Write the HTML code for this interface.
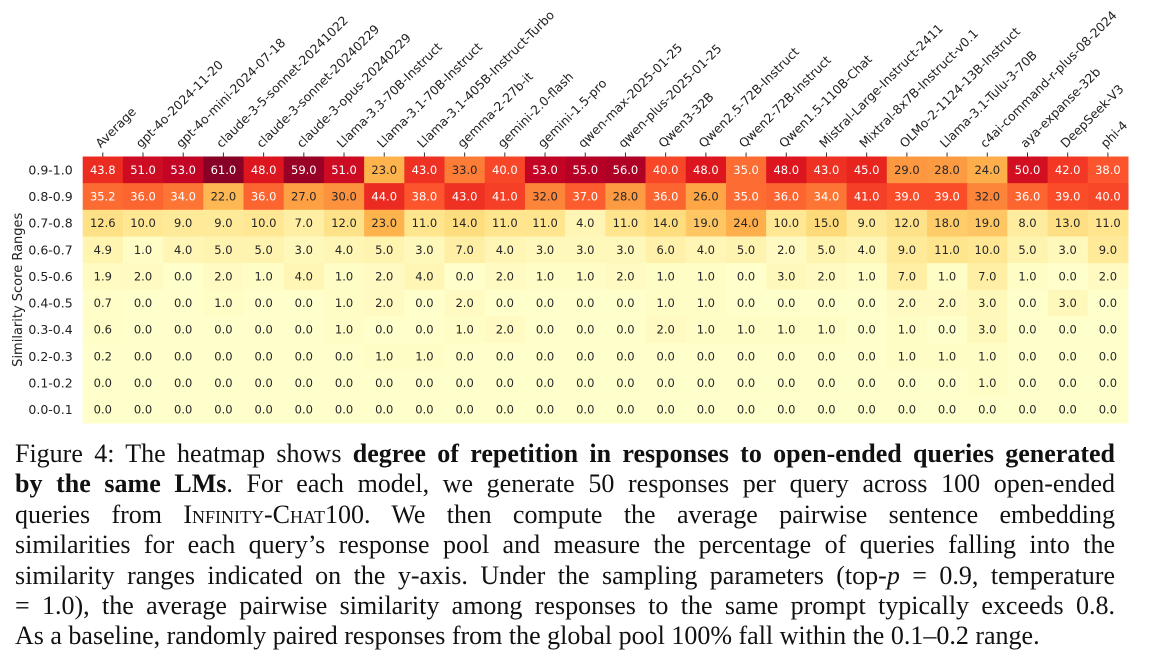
<!DOCTYPE html>
<html><head><meta charset="utf-8"><style>
body{margin:0;width:1152px;height:662px;background:#fff;overflow:hidden;position:relative}
#cap{position:absolute;left:15px;top:439px;width:1100px;font-family:"Liberation Serif",serif;font-size:26px;line-height:30.4px;color:#111}
#cap .ln{display:block;white-space:nowrap;text-align:justify;text-align-last:justify;width:1100px}
#cap .last{text-align-last:left;text-align:left}
.sc{font-variant:small-caps}
</style></head><body>
<svg id="chart" width="1152" height="436" style="position:absolute;left:0;top:0" font-family="DejaVu Sans, Liberation Sans, sans-serif"></svg>
<div id="cap">
<span class="ln">Figure 4: The heatmap shows <b>degree of repetition in responses to open-ended queries generated</b></span>
<span class="ln"><b>by the same LMs</b>. For each model, we generate 50 responses per query across 100 open-ended</span>
<span class="ln">queries from <span class="sc">Infinity-Chat</span>100. We then compute the average pairwise sentence embedding</span>
<span class="ln">similarities for each query’s response pool and measure the percentage of queries falling into the</span>
<span class="ln">similarity ranges indicated on the y-axis. Under the sampling parameters (top-<i>p</i> = 0.9, temperature</span>
<span class="ln">= 1.0), the average pairwise similarity among responses to the same prompt typically exceeds 0.8.</span>
<span class="ln last">As a baseline, randomly paired responses from the global pool 100% fall within the 0.1–0.2 range.</span>
</div>
<script>
const models=["Average","gpt-4o-2024-11-20","gpt-4o-mini-2024-07-18","claude-3-5-sonnet-20241022","claude-3-sonnet-20240229","claude-3-opus-20240229","Llama-3.3-70B-Instruct","Llama-3.1-70B-Instruct","Llama-3.1-405B-Instruct-Turbo","gemma-2-27b-it","gemini-2.0-flash","gemini-1.5-pro","qwen-max-2025-01-25","qwen-plus-2025-01-25","Qwen3-32B","Qwen2.5-72B-Instruct","Qwen2-72B-Instruct","Qwen1.5-110B-Chat","Mistral-Large-Instruct-2411","Mixtral-8x7B-Instruct-v0.1","OLMo-2-1124-13B-Instruct","Llama-3.1-Tulu-3-70B","c4ai-command-r-plus-08-2024","aya-expanse-32b","DeepSeek-V3","phi-4"];
const ranges=["0.9-1.0","0.8-0.9","0.7-0.8","0.6-0.7","0.5-0.6","0.4-0.5","0.3-0.4","0.2-0.3","0.1-0.2","0.0-0.1"];
const r09=[43.8,51,53,61,48,59,51,23,43,33,40,53,55,56,40,48,35,48,43,45,29,28,24,50,42,38];
const r08=[35.2,36,34,22,36,27,30,44,38,43,41,32,37,28,36,26,35,36,34,41,39,39,32,36,39,40];
const r07=[12.6,10,9,9,10,7,12,23,11,14,11,11,4,11,14,19,24,10,15,9,12,18,19,8,13,11];
const r06=[4.9,1,4,5,5,3,4,5,3,7,4,3,3,3,6,4,5,2,5,4,9,11,10,5,3,9];
const r05=[1.9,2,0,2,1,4,1,2,4,0,2,1,1,2,1,1,0,3,2,1,7,1,7,1,0,2];
const r04=[0.7,0,0,1,0,0,1,2,0,2,0,0,0,0,1,1,0,0,0,0,2,2,3,0,3,0];
const r03=[0.6,0,0,0,0,0,1,0,0,1,2,0,0,0,2,1,1,1,1,0,1,0,3,0,0,0];
const r02=[0.2,0,0,0,0,0,0,1,1,0,0,0,0,0,0,0,0,0,0,0,1,1,1,0,0,0];
const r01=[0,0,0,0,0,0,0,0,0,0,0,0,0,0,0,0,0,0,0,0,0,0,1,0,0,0];
const r00=[0,0,0,0,0,0,0,0,0,0,0,0,0,0,0,0,0,0,0,0,0,0,0,0,0,0];
const rows=[r09,r08,r07,r06,r05,r04,r03,r02,r01,r00];
const X0=82.7,X1=1128,Y0=156.5,Y1=423;
const cw=(X1-X0)/models.length, ch=(Y1-Y0)/ranges.length;
const xs=i=>X0+i*cw, ys=j=>Y0+j*ch;
const stops=["#ffffcc","#ffeda0","#fed976","#feb24c","#fd8d3c","#fc4e2a","#e31a1c","#bd0026","#800026"];
const vmax=62;
function hex(h){return [1,3,5].map(k=>parseInt(h.substr(k,2),16))}
function color(v){let t=Math.max(0,Math.min(1,v/vmax))*(stops.length-1);let i=Math.min(Math.floor(t),stops.length-2),f=t-i;const a=hex(stops[i]),b=hex(stops[i+1]);return `rgb(${a.map((c,k)=>Math.round(c+(b[k]-c)*f)).join(',')})`}
const svg=document.getElementById('chart'),NS="http://www.w3.org/2000/svg";
function mk(t,at,p){const e=document.createElementNS(NS,t);for(const k in at)e.setAttribute(k,at[k]);(p||svg).appendChild(e);return e}
rows.forEach((row,j)=>{row.forEach((v,i)=>{
 const r=mk('rect',{x:xs(i),y:ys(j),width:cw+0.5,height:ch+0.5,fill:color(v)});
 
 
 const t=mk('text',{x:xs(i)+cw/2,y:ys(j)+ch/2+4,'text-anchor':'middle','font-size':'11.5',fill:v>33?'#fff':'#262626'});
 t.textContent=v.toFixed(1);
 
 
});
 const yl=mk('text',{x:X0-10,y:ys(j)+ch/2+4.5,'text-anchor':'end','font-size':'12.5',fill:'#222'});
 yl.textContent=ranges[j];
 
 
});
models.forEach((m,i)=>{
 const cx=xs(i)+cw/2;
 mk('line',{x1:cx,y1:Y0,x2:cx,y2:Y0-4,stroke:'#333','stroke-width':1});
 const t=mk('text',{x:cx-2,y:Y0-8,'font-size':'12.4',fill:'#222',transform:`rotate(-45 ${cx-2} ${Y0-8})`});
 t.textContent=m;
 
 
});
const yt=mk('text',{x:22,y:(Y0+Y1)/2,'text-anchor':'middle','font-size':'13',fill:'#222',transform:`rotate(-90 22 ${(Y0+Y1)/2})`});
yt.textContent="Similarity Score Ranges";


</script>
</body></html>
